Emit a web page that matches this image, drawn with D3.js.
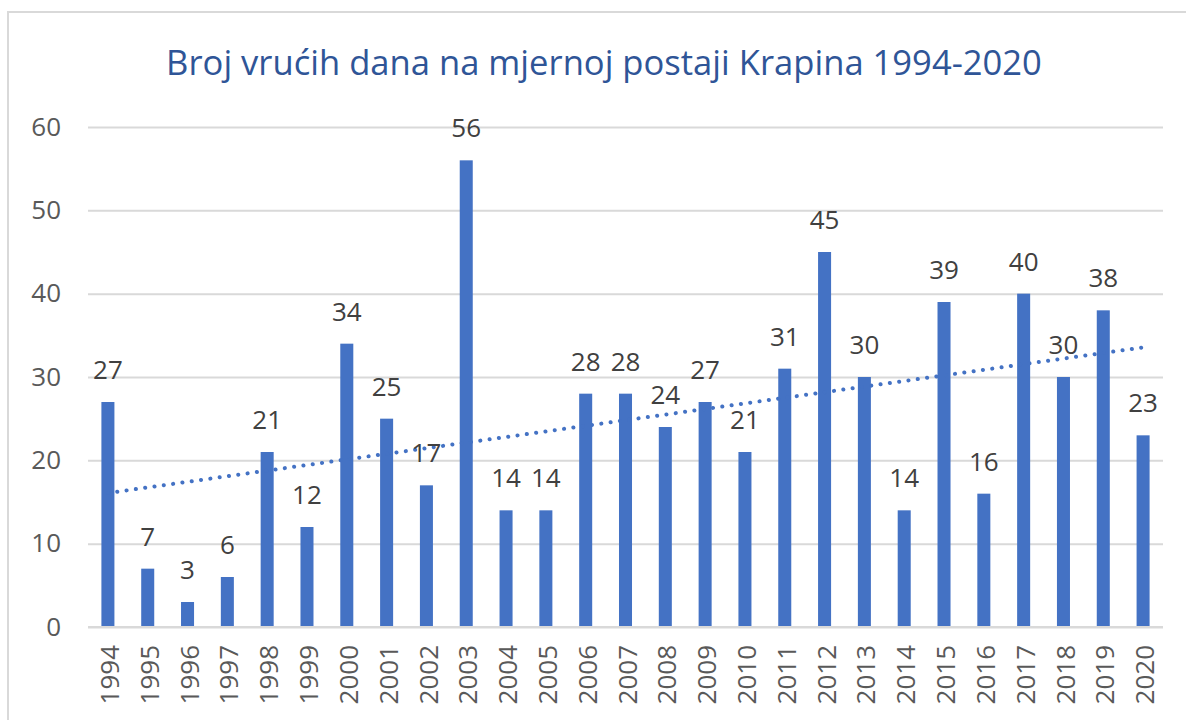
<!DOCTYPE html>
<html>
<head>
<meta charset="utf-8">
<script src="https://cdn.jsdelivr.net/npm/d3@7"></script>
<style>
  body { margin: 0; background: #fff; }
  text { font-family: "Open Sans", "Noto Sans", sans-serif; }
</style>
</head>
<body>
<div id="chart"></div>
<script>
// data
var years = ["1994", "1995", "1996", "1997", "1998", "1999", "2000", "2001", "2002",
    "2003", "2004", "2005", "2006", "2007", "2008", "2009", "2010", "2011",
    "2012", "2013", "2014", "2015", "2016", "2017", "2018", "2019", "2020"];
var hotDays = [27, 7, 3, 6, 21, 12, 34, 25, 17, 56, 14, 14, 28, 28, 24, 27, 21, 31,
    45, 30, 14, 39, 16, 40, 30, 38, 23];
var yTicks = [0, 10, 20, 30, 40, 50, 60];
var title = "Broj vrućih dana na mjernoj postaji Krapina 1994-2020";

var svgWidth = 1186;
var svgHeight = 720;

var plot = { left: 88, right: 1163, top: 127, bottom: 627 };

var svg = d3.select("#chart")
    .append("svg")
    .attr("width", svgWidth)
    .attr("height", svgHeight);

// chart area frame
svg.append("rect")
    .attr("x", 8)
    .attr("y", 12)
    .attr("width", svgWidth + 20)
    .attr("height", svgHeight + 20)
    .attr("fill", "#fff")
    .attr("stroke", "#d9d9d9")
    .attr("stroke-width", 2);

var xScale = d3.scaleBand()
    .domain(years)
    .range([plot.left, plot.right])
    .paddingInner(0.673)
    .paddingOuter(0.3365);

var yScale = d3.scaleLinear()
    .domain([0, 60])
    .range([plot.bottom, plot.top]);

// gridlines + y labels
var leftAxis = d3.axisLeft(yScale)
    .tickValues(yTicks)
    .tickSize(-(plot.right - plot.left))
    .tickPadding(27);

var yAxis = svg.append("g")
    .attr("transform", `translate(${plot.left}, 0)`)
    .call(leftAxis);
yAxis.select(".domain").remove();
yAxis.selectAll("line")
    .attr("stroke", "#d9d9d9")
    .attr("stroke-width", 2);
yAxis.selectAll("text")
    .attr("fill", "#595959")
    .style("font-size", "26px");

// bars
svg.selectAll("rect.bar")
    .data(hotDays)
    .enter().append("rect")
    .attr("class", "bar")
    .attr("x", function (d, i) { return xScale(years[i]); })
    .attr("y", function (d) { return yScale(d); })
    .attr("width", xScale.bandwidth())
    .attr("height", function (d) { return yScale(0) - yScale(d); })
    .attr("fill", "#4472c4");

// baseline over bars
svg.append("line")
    .attr("x1", plot.left)
    .attr("x2", plot.right)
    .attr("y1", yScale(0))
    .attr("y2", yScale(0))
    .attr("stroke", "#d9d9d9")
    .attr("stroke-width", 2);

// linear trendline (least squares, like Excel)
var n = hotDays.length;
var meanX = (n - 1) / 2;
var meanY = d3.mean(hotDays);
var sxy = d3.sum(hotDays, function (d, i) { return (i - meanX) * (d - meanY); });
var sxx = d3.sum(hotDays, function (d, i) { return (i - meanX) * (i - meanX); });
var slope = sxy / sxx;
var intercept = meanY - slope * meanX;

var trend = [0, n - 1].map(function (i) {
    return [xScale(years[i]) + xScale.bandwidth() / 2, yScale(intercept + slope * i)];
});

svg.append("path")
    .attr("d", d3.line()(trend))
    .attr("fill", "none")
    .attr("stroke", "#4472c4")
    .attr("stroke-width", 4)
    .attr("stroke-linecap", "round")
    .attr("stroke-dasharray", "0.1 9.3");

// data labels
svg.selectAll("text.value")
    .data(hotDays)
    .enter().append("text")
    .attr("class", "value")
    .attr("x", function (d, i) { return xScale(years[i]) + xScale.bandwidth() / 2; })
    .attr("y", function (d) { return yScale(d) - 23; })
    .attr("text-anchor", "middle")
    .attr("fill", "#404040")
    .style("font-size", "26px")
    .text(function (d) { return d; });

// x labels, rotated
svg.selectAll("text.year")
    .data(years)
    .enter().append("text")
    .attr("class", "year")
    .attr("transform", function (d) {
        return `translate(${xScale(d) + xScale.bandwidth() / 2 + 2}, 645) rotate(-90)`;
    })
    .attr("dy", "0.35em")
    .attr("text-anchor", "end")
    .attr("fill", "#595959")
    .style("font-size", "26px")
    .text(function (d) { return d; });

// title, sized to the width it has in the picture
var titleText = svg.append("text")
    .attr("x", 604)
    .attr("y", 75)
    .attr("text-anchor", "middle")
    .attr("fill", "#2f5597")
    .style("font-size", "36px")
    .text(title);
var w = titleText.node().getComputedTextLength();
titleText.style("font-size", (36 * 876 / w) + "px");
</script>
</body>
</html>
